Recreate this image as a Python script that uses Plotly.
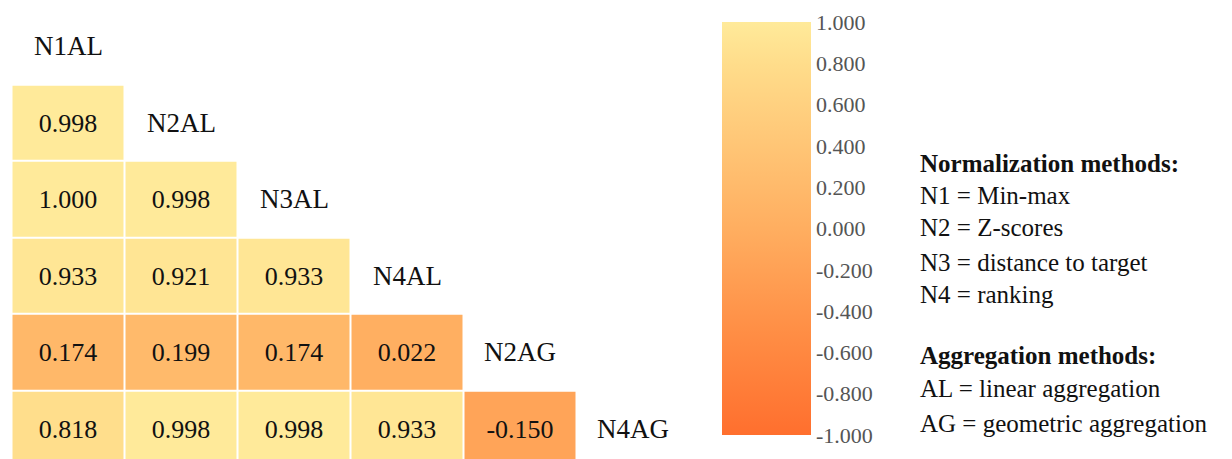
import plotly.graph_objects as go

# Composite indicator variants (normalization + aggregation)
methods = ["N1AL", "N2AL", "N3AL", "N4AL", "N2AG", "N4AG"]

# Lower-triangle correlation coefficients, one list per row (row i vs. columns 0..i-1)
corr_n2al = [0.998]
corr_n3al = [1.000, 0.998]
corr_n4al = [0.933, 0.921, 0.933]
corr_n2ag = [0.174, 0.199, 0.174, 0.022]
corr_n4ag = [0.818, 0.998, 0.998, 0.933, -0.150]

lower_rows = [[], corr_n2al, corr_n3al, corr_n4al, corr_n2ag, corr_n4ag]

colorbar_ticks = [1.0, 0.8, 0.6, 0.4, 0.2, 0.0, -0.2, -0.4, -0.6, -0.8, -1.0]

legend_lines = [
    ("<b>Normalization methods:</b>", 163),
    ("N1 = Min-max", 195),
    ("N2 = Z-scores", 227),
    ("N3 = distance to target", 262),
    ("N4 = ranking", 294),
    ("<b>Aggregation methods:</b>", 355),
    ("AL = linear aggregation", 388),
    ("AG = geometric aggregation", 423),
]

n = len(methods)
z = [[None] * n for _ in range(n)]
txt = [[""] * n for _ in range(n)]
for i, row in enumerate(lower_rows):
    for j, v in enumerate(row):
        z[i][j] = v
        txt[i][j] = f"{v:.3f}"

W, H = 1232, 459
SERIF = "Liberation Serif"

colorscale = [
    [0.0, "#FF6F2E"],
    [0.25, "#FF8E45"],
    [0.5, "#FFAE60"],
    [0.75, "#FFCB7B"],
    [0.9, "#FFDD8B"],
    [1.0, "#FFEA9A"],
]

fig = go.Figure(
    go.Heatmap(
        z=z,
        x=list(range(n)),
        y=list(range(n)),
        text=txt,
        texttemplate="%{text}",
        textfont=dict(family=SERIF, size=26, color="#111111"),
        colorscale=colorscale,
        zmin=-1,
        zmax=1,
        xgap=2,
        ygap=2,
        hoverongaps=False,
        colorbar=dict(
            x=722 / W,
            xanchor="left",
            xpad=0,
            ypad=0,
            y=1 - (22 + 435) / 2 / H,
            yanchor="middle",
            lenmode="pixels",
            len=413,
            thicknessmode="pixels",
            thickness=89,
            outlinewidth=0,
            ticks="",
            ticklabelposition="outside",
            tickvals=colorbar_ticks,
            ticktext=[f"{t:.3f}" for t in colorbar_ticks],
            tickfont=dict(family=SERIF, size=22, color="#555555"),
        ),
    )
)

# Variant names along the diagonal
for i, name in enumerate(methods):
    fig.add_annotation(
        x=i, y=i, xref="x", yref="y", text=name, showarrow=False,
        font=dict(family=SERIF, size=27, color="#111111"),
    )

# Method key on the right
for line, ypx in legend_lines:
    fig.add_annotation(
        x=918 / W, y=1 - ypx / H, xref="paper", yref="paper",
        xanchor="left", yanchor="middle", text=line, showarrow=False,
        font=dict(family=SERIF, size=25, color="#111111"),
    )

x_left = -68 / 113
x_right = (700 - 68) / 113
y_top = -46 / 76.6
y_bottom = (H - 46) / 76.6

fig.update_layout(
    width=W,
    height=H,
    margin=dict(l=0, r=0, t=0, b=0),
    paper_bgcolor="white",
    plot_bgcolor="white",
    font=dict(family=SERIF),
    xaxis=dict(domain=[0, 700 / W], range=[x_left, x_right], visible=False, fixedrange=True),
    yaxis=dict(range=[y_bottom, y_top], visible=False, fixedrange=True),
)

fig.write_html("out.html")
